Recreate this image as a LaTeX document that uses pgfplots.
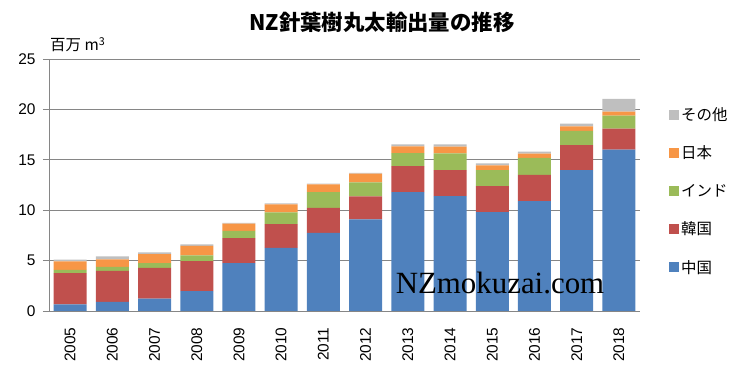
\documentclass[border=0pt]{standalone}
\usepackage{fontspec}
\setmainfont{Liberation Sans}
\newfontfamily\jp{Noto Sans CJK JP}
\newfontfamily\wm{Liberation Serif}
\usepackage{pgfplots}
\usepackage{pgfplotstable}
\pgfplotsset{compat=1.18}
\definecolor{cnblue}{HTML}{4F81BD}
\definecolor{krred}{HTML}{C0504D}
\definecolor{ingreen}{HTML}{9BBB59}
\definecolor{jporange}{HTML}{F79646}
\definecolor{otgray}{HTML}{BFBFBF}
\definecolor{axisgray}{HTML}{868686}
\pgfplotstableread{
x cn kr in jp ot
0 0.66 3.10 0.33 0.83 0.17
1 0.90 3.07 0.40 0.76 0.30
2 1.23 3.04 0.49 0.87 0.19
3 1.98 2.98 0.57 0.92 0.17
4 4.76 2.48 0.70 0.73 0.08
5 6.25 2.38 1.16 0.80 0.08
6 7.74 2.48 1.58 0.77 0.06
7 9.10 2.28 1.39 0.86 0.08
8 11.80 2.56 1.31 0.67 0.20
9 11.40 2.58 1.65 0.67 0.24
10 9.82 2.58 1.58 0.47 0.20
11 10.90 2.60 1.70 0.42 0.20
12 13.98 2.48 1.40 0.45 0.27
13 16.00 2.10 1.27 0.40 1.28
}\data
\begin{document}
\begin{tikzpicture}
\useasboundingbox (0bp,0bp) rectangle (750bp,372bp);
\begin{axis}[
  at={(49bp,61bp)}, anchor=south west,
  scale only axis, width=591bp, height=252bp,
  ybar stacked, bar width=33bp,
  xmin=-0.5, xmax=13.5, ymin=0, ymax=25,
  ytick={0,5,...,25},
  xtick={0,...,13},
  xticklabels={2005,2006,2007,2008,2009,2010,2011,2012,2013,2014,2015,2016,2017,2018},
  x tick label style={rotate=90, anchor=east},
  xticklabel shift=7bp,
  yticklabel shift=4bp,
  major x tick style={draw=none},
  extra x ticks={-0.5,0.5,...,13.5},
  extra x tick labels={},
  extra x tick style={major tick length=5bp, tick style={draw=axisgray}},
  axis x line*=bottom, axis y line*=left,
  axis line style={draw=axisgray, -, line width=0.8bp},
  tick align=outside,
  major tick length=6bp,
  y tick style={draw=axisgray, line width=0.8bp},
  ymajorgrids,
  grid style={draw=axisgray, line width=0.8bp},
  /pgf/number format/assume math mode=true,
  tick label style={font=\fontsize{15.5}{18}\selectfont, text=black},
  legend style={draw=none, fill=none, at={(1.044,0.825)}, anchor=north west,
    row sep=20bp, font=\jp\fontsize{15.5}{18}\selectfont, cells={anchor=west}},
  reverse legend,
  legend image code/.code={\fill[#1] (0bp,-5bp) rectangle (10bp,5bp);},
]
\addplot[fill=cnblue, draw=none] table[x=x,y=cn]{\data};
\addplot[fill=krred, draw=none] table[x=x,y=kr]{\data};
\addplot[fill=ingreen, draw=none] table[x=x,y=in]{\data};
\addplot[fill=jporange, draw=none] table[x=x,y=jp]{\data};
\addplot[fill=otgray, draw=none] table[x=x,y=ot]{\data};
\legend{中国,韓国,インド,日本,その他}
\end{axis}
\node[font=\jp\bfseries\fontsize{21.5}{24}\selectfont] at (382bp,350bp) {NZ針葉樹丸太輸出量の推移};
\node[anchor=west, font=\jp\fontsize{15.5}{18}\selectfont, inner sep=0pt] at (50bp,327bp) {百万 m\textsuperscript{3}};
\node[anchor=base, font=\wm\fontsize{31}{34}\selectfont, inner sep=0pt] at (500bp,78bp) {NZmokuzai.com};
\end{tikzpicture}
\end{document}
